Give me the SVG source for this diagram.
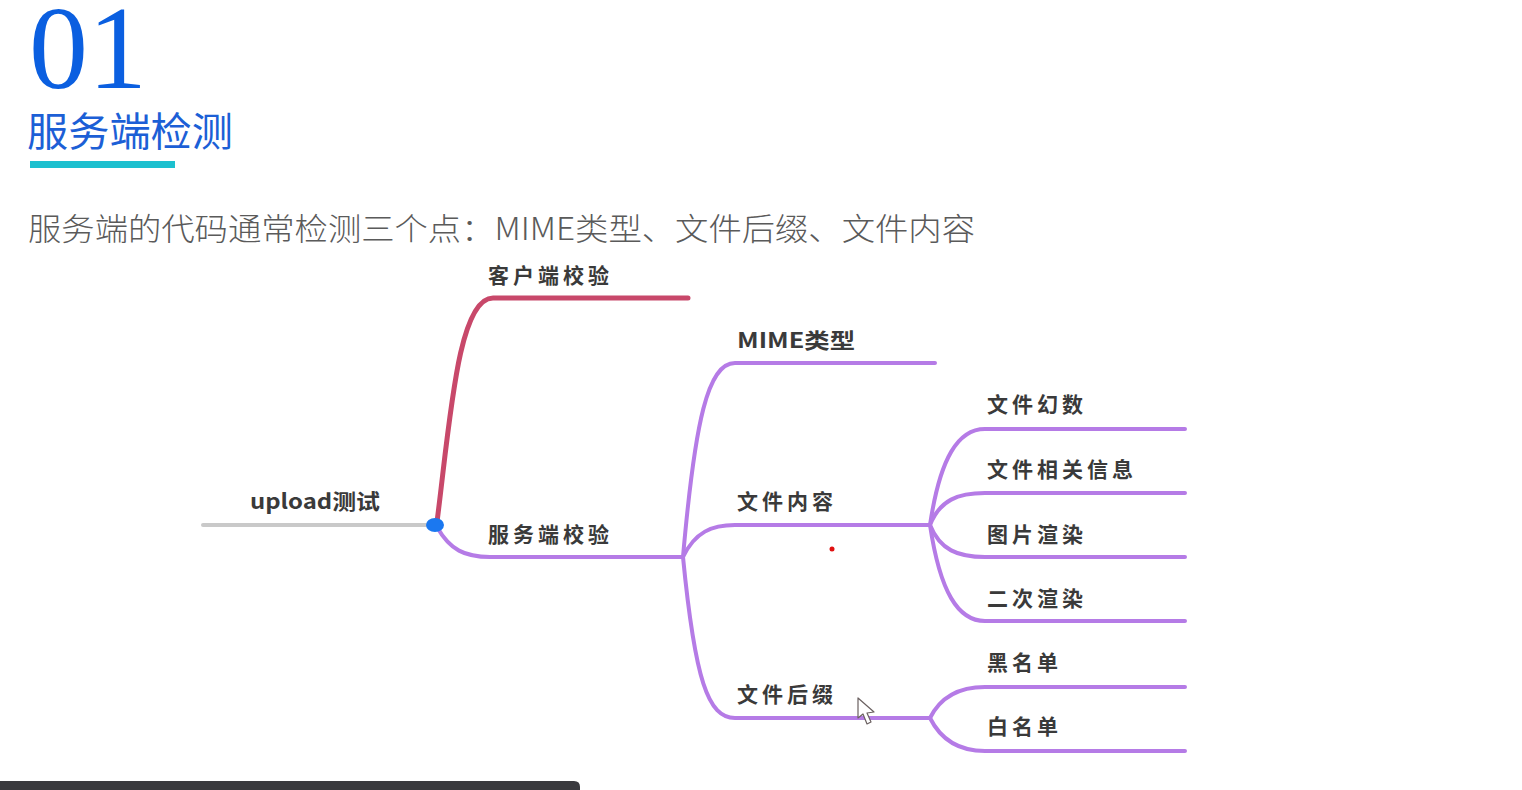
<svg xmlns="http://www.w3.org/2000/svg" width="1522" height="790" viewBox="0 0 1522 790">
<style>
.lbl{font-family:"Noto Sans CJK SC","Noto Sans",sans-serif;font-size:21px;font-weight:bold;fill:#3a3a3a;letter-spacing:4px}
.lat{letter-spacing:0}
.br{fill:none;stroke:#b57be6;stroke-width:4;stroke-linecap:round}
</style>
<rect width="1522" height="790" fill="#ffffff"/>
<g id="header">
<text x="29" y="88" font-family="Liberation Serif,serif" font-size="118" fill="#0b5fe0">01</text>
<text x="27" y="146" font-family="Noto Sans CJK SC,sans-serif" font-size="40" fill="#1c5fd6" textLength="206" lengthAdjust="spacingAndGlyphs">服务端检测</text>
<rect x="30" y="161" width="145" height="7" fill="#1cc0cf"/>
<text x="28" y="240" font-family="Noto Sans CJK SC,sans-serif" font-size="31" font-weight="300" fill="#5a5a5a" textLength="947" lengthAdjust="spacingAndGlyphs">服务端的代码通常检测三个点：MIME类型、文件后缀、文件内容</text>
</g>
<g id="connectors">
<line x1="203" y1="525" x2="435" y2="525" stroke="#c9c9c9" stroke-width="4" stroke-linecap="round"/>
<path d="M437,522 C450,420 458,298 493,298 H688" fill="none" stroke="#c8486a" stroke-width="5" stroke-linecap="round"/>
<path class="br" d="M437,527 C450,550 465,557 490,557 H683"/>
<path class="br" d="M683,557 C695,420 708,363 735,363 H935"/>
<path class="br" d="M683,557 C695,532 712,525 735,525 H930"/>
<path class="br" d="M683,557 C695,680 708,718 735,718 H930"/>
<path class="br" d="M930,525 C940,458 958,429 985,429 H1185"/>
<path class="br" d="M930,525 C940,500 958,493 985,493 H1185"/>
<path class="br" d="M930,525 C940,550 958,557 985,557 H1185"/>
<path class="br" d="M930,525 C940,592 958,621 985,621 H1185"/>
<path class="br" d="M930,718 C940,698 958,687 985,687 H1185"/>
<path class="br" d="M930,718 C940,738 958,751 985,751 H1185"/>
</g>
<g id="n-root"><ellipse cx="435" cy="525" rx="9" ry="7" fill="#1b78f0"/><text class="lbl lat" x="250" y="509" textLength="130" lengthAdjust="spacingAndGlyphs">upload测试</text></g>
<g id="n-client"><text class="lbl" x="488" y="283">客户端校验</text></g>
<g id="n-server"><text class="lbl" x="488" y="542">服务端校验</text></g>
<g id="n-mime"><text class="lbl lat" x="737" y="348" textLength="118" lengthAdjust="spacingAndGlyphs">MIME类型</text></g>
<g id="n-content"><text class="lbl" x="737" y="509">文件内容</text></g>
<g id="n-suffix"><text class="lbl" x="737" y="702">文件后缀</text></g>
<g id="n-magic"><text class="lbl" x="987" y="412">文件幻数</text></g>
<g id="n-info"><text class="lbl" x="987" y="477">文件相关信息</text></g>
<g id="n-render"><text class="lbl" x="987" y="542">图片渲染</text></g>
<g id="n-rerender"><text class="lbl" x="987" y="606">二次渲染</text></g>
<g id="n-black"><text class="lbl" x="987" y="670">黑名单</text></g>
<g id="n-white"><text class="lbl" x="987" y="734">白名单</text></g>
<circle cx="832" cy="549" r="2.5" fill="#e01010"/>
<path d="M858,698 L858,718 L863,714 L867,724 L871,722 L867,713 L874,712 Z" fill="#ffffff" stroke="#6a6060" stroke-width="1.2" stroke-linejoin="round"/>
<path d="M0,781 H574 Q580,781 580,787 V790 H0 Z" fill="#3a3a3e"/>
</svg>
